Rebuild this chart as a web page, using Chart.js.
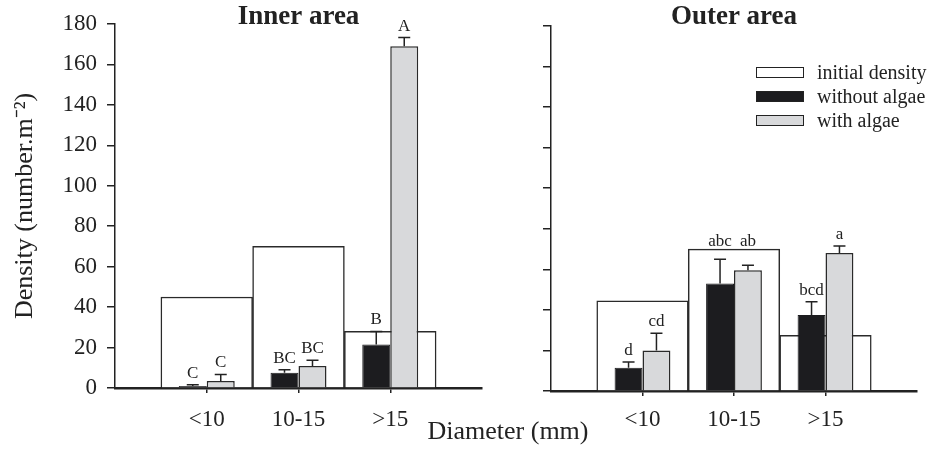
<!DOCTYPE html>
<html>
<head>
<meta charset="utf-8">
<title>Density by diameter</title>
<script src="https://cdn.jsdelivr.net/npm/chart.js@4.4.1/dist/chart.umd.min.js"></script>
<style>
  body { margin: 0; background: #fff; }
  #wrap { position: relative; width: 929px; height: 455px; font-family: "Liberation Serif", "Times New Roman", serif; color: #222; }
  canvas { position: absolute; top: 0; }
  #inner { left: 0; }
  #outer { left: 490px; }
  #xtitle { position: absolute; left: 358px; width: 300px; top: 418px; text-align: center; font-size: 26px; line-height: 26px; }
  #legend { position: absolute; left: 756px; top: 60px; }
  .row { display: flex; align-items: center; height: 24px; font-size: 20px; white-space: nowrap; }
  .swatch { width: 48px; height: 11px; box-sizing: border-box; border: 1.5px solid #222; margin-right: 13px; }
</style>
</head>
<body>
<div id="wrap">
  <canvas id="inner" width="490" height="455"></canvas>
  <canvas id="outer" width="439" height="455"></canvas>
  <div id="xtitle">Diameter (mm)</div>
  <div id="legend"></div>
</div>
<script>
// Density (number per m2) by shell diameter class, inner and outer area
const categories = ["<10", "10-15", ">15"];
const seriesNames = ["initial density", "without algae", "with algae"];
const seriesColors = ["#ffffff", "#1c1c1f", "#d8d9db"];

const innerInitial = [45, 70, 28];
const innerWithout = [1, 7.5, 21.5];
const innerWithoutSE = [0.6, 1.5, 6.5];
const innerWith = [3.5, 10.9, 169];
const innerWithSE = [3.2, 2.8, 4.3];
const innerWithoutLetters = ["C", "BC", "B"];
const innerWithLetters = ["C", "BC", "A"];

const outerInitial = [44.5, 70, 27.5];
const outerWithout = [11.5, 53, 37.5];
const outerWithoutSE = [2.8, 12, 6.5];
const outerWith = [20, 59.5, 68];
const outerWithSE = [8.5, 2.5, 3.5];
const outerWithoutLetters = ["d", "abc", "bcd"];
const outerWithLetters = ["cd", "ab", "a"];

const FONT = "'Liberation Serif', 'Times New Roman', serif";
const INK = "#222";

// legend (html)
const legendEl = document.getElementById("legend");
seriesNames.forEach((name, i) => {
  const row = document.createElement("div");
  row.className = "row";
  row.innerHTML = `<span class="swatch" style="background:${seriesColors[i]}"></span><span>${name}</span>`;
  legendEl.appendChild(row);
});

// error bars + significance letters on top of the treatment bars
const errorBarsPlugin = {
  id: "errorBars",
  afterDatasetsDraw(chart) {
    const ctx = chart.ctx;
    const yScale = chart.scales.y;
    const initial = chart.data.datasets[0].data;
    ctx.save();
    ctx.strokeStyle = INK;
    ctx.lineWidth = 1.5;
    ctx.fillStyle = INK;
    ctx.font = "17px " + FONT;
    ctx.textAlign = "center";
    ctx.textBaseline = "alphabetic";
    chart.data.datasets.forEach((ds, di) => {
      if (!ds.se) return;
      chart.getDatasetMeta(di).data.forEach((bar, i) => {
        const top = yScale.getPixelForValue(ds.data[i].y + ds.se[i]);
        ctx.beginPath();
        ctx.moveTo(bar.x, bar.y);
        ctx.lineTo(bar.x, top);
        ctx.moveTo(bar.x - 6, top);
        ctx.lineTo(bar.x + 6, top);
        ctx.stroke();
        // keep the letter clear of the initial-density outline
        let base = top - 7;
        const boxTop = yScale.getPixelForValue(initial[i].y);
        if (base - 12 < boxTop && base + 2 > boxTop) base = boxTop - 3;
        ctx.fillText(ds.letters[i], bar.x, base);
      });
    });
    ctx.restore();
  }
};

function toPoints(values) {
  return values.map((v, i) => ({ x: i, y: v }));
}

function makePanel(id, p) {
  return new Chart(document.getElementById(id), {
    type: "bar",
    data: {
      datasets: [
        {
          label: seriesNames[0],
          data: toPoints(p.initial),
          backgroundColor: seriesColors[0],
          borderColor: "#2a2a2a",
          borderWidth: 1.5,
          grouped: false,
          barPercentage: 1,
          categoryPercentage: 1,
          order: 1
        },
        {
          label: seriesNames[1],
          data: toPoints(p.without),
          se: p.withoutSE,
          letters: p.withoutLetters,
          backgroundColor: seriesColors[1],
          borderColor: seriesColors[1],
          borderWidth: 1,
          barPercentage: 1,
          categoryPercentage: 0.61,
          order: 0
        },
        {
          label: seriesNames[2],
          data: toPoints(p.withA),
          se: p.withSE,
          letters: p.withLetters,
          backgroundColor: seriesColors[2],
          borderColor: "#2a2a2a",
          borderWidth: 1.5,
          barPercentage: 1,
          categoryPercentage: 0.61,
          order: 0
        }
      ]
    },
    options: {
      responsive: false,
      animation: false,
      layout: { padding: { top: 0, left: 0, bottom: 0, right: p.padRight } },
      plugins: {
        legend: { display: false },
        tooltip: { enabled: false },
        title: {
          display: true,
          text: p.title,
          fullSize: false,
          color: INK,
          font: { family: FONT, size: 27, weight: "bold", lineHeight: 1.2 },
          padding: { top: 1.3, bottom: p.top - 32.4 - 1.3 }
        }
      },
      scales: {
        x: {
          type: "linear",
          min: -1,
          max: 3,
          offset: false,
          afterBuildTicks: (s) => { s.ticks = categories.map((c, i) => ({ value: i })); },
          afterFit: (s) => { s.height = 455 - p.bottom; },
          grid: { drawOnChartArea: false, offset: false, tickLength: 5, color: INK, lineWidth: 1.5 },
          border: { color: INK, width: 2.5 },
          ticks: {
            callback: (v) => categories[v],
            color: INK,
            font: { family: FONT, size: 23 },
            padding: p.xPad,
            maxRotation: 0,
            autoSkip: false
          }
        },
        y: {
          min: 0,
          max: 180,
          afterFit: (s) => { s.width = p.yWidth; },
          grid: { drawOnChartArea: false, tickLength: 8, color: INK, lineWidth: 1.5 },
          border: { color: INK, width: 1.5 },
          ticks: {
            display: p.showY,
            stepSize: 20,
            color: INK,
            font: { family: FONT, size: 23 },
            padding: 10
          },
          title: {
            display: p.showY,
            text: "Density (number.m⁻²)",
            color: INK,
            font: { family: FONT, size: 26 },
            padding: { top: 9.5, bottom: 0 }
          }
        }
      }
    },
    plugins: [errorBarsPlugin]
  });
}

makePanel("inner", {
  title: "Inner area",
  initial: innerInitial,
  without: innerWithout, withoutSE: innerWithoutSE, withoutLetters: innerWithoutLetters,
  withA: innerWith, withSE: innerWithSE, withLetters: innerWithLetters,
  showY: true, yWidth: 115, padRight: 8, top: 24, bottom: 388, xPad: 13
});

makePanel("outer", {
  title: "Outer area",
  initial: outerInitial,
  without: outerWithout, withoutSE: outerWithoutSE, withoutLetters: outerWithoutLetters,
  withA: outerWith, withSE: outerWithSE, withLetters: outerWithLetters,
  showY: false, yWidth: 61, padRight: 12, top: 26, bottom: 391, xPad: 10
});
</script>
</body>
</html>
